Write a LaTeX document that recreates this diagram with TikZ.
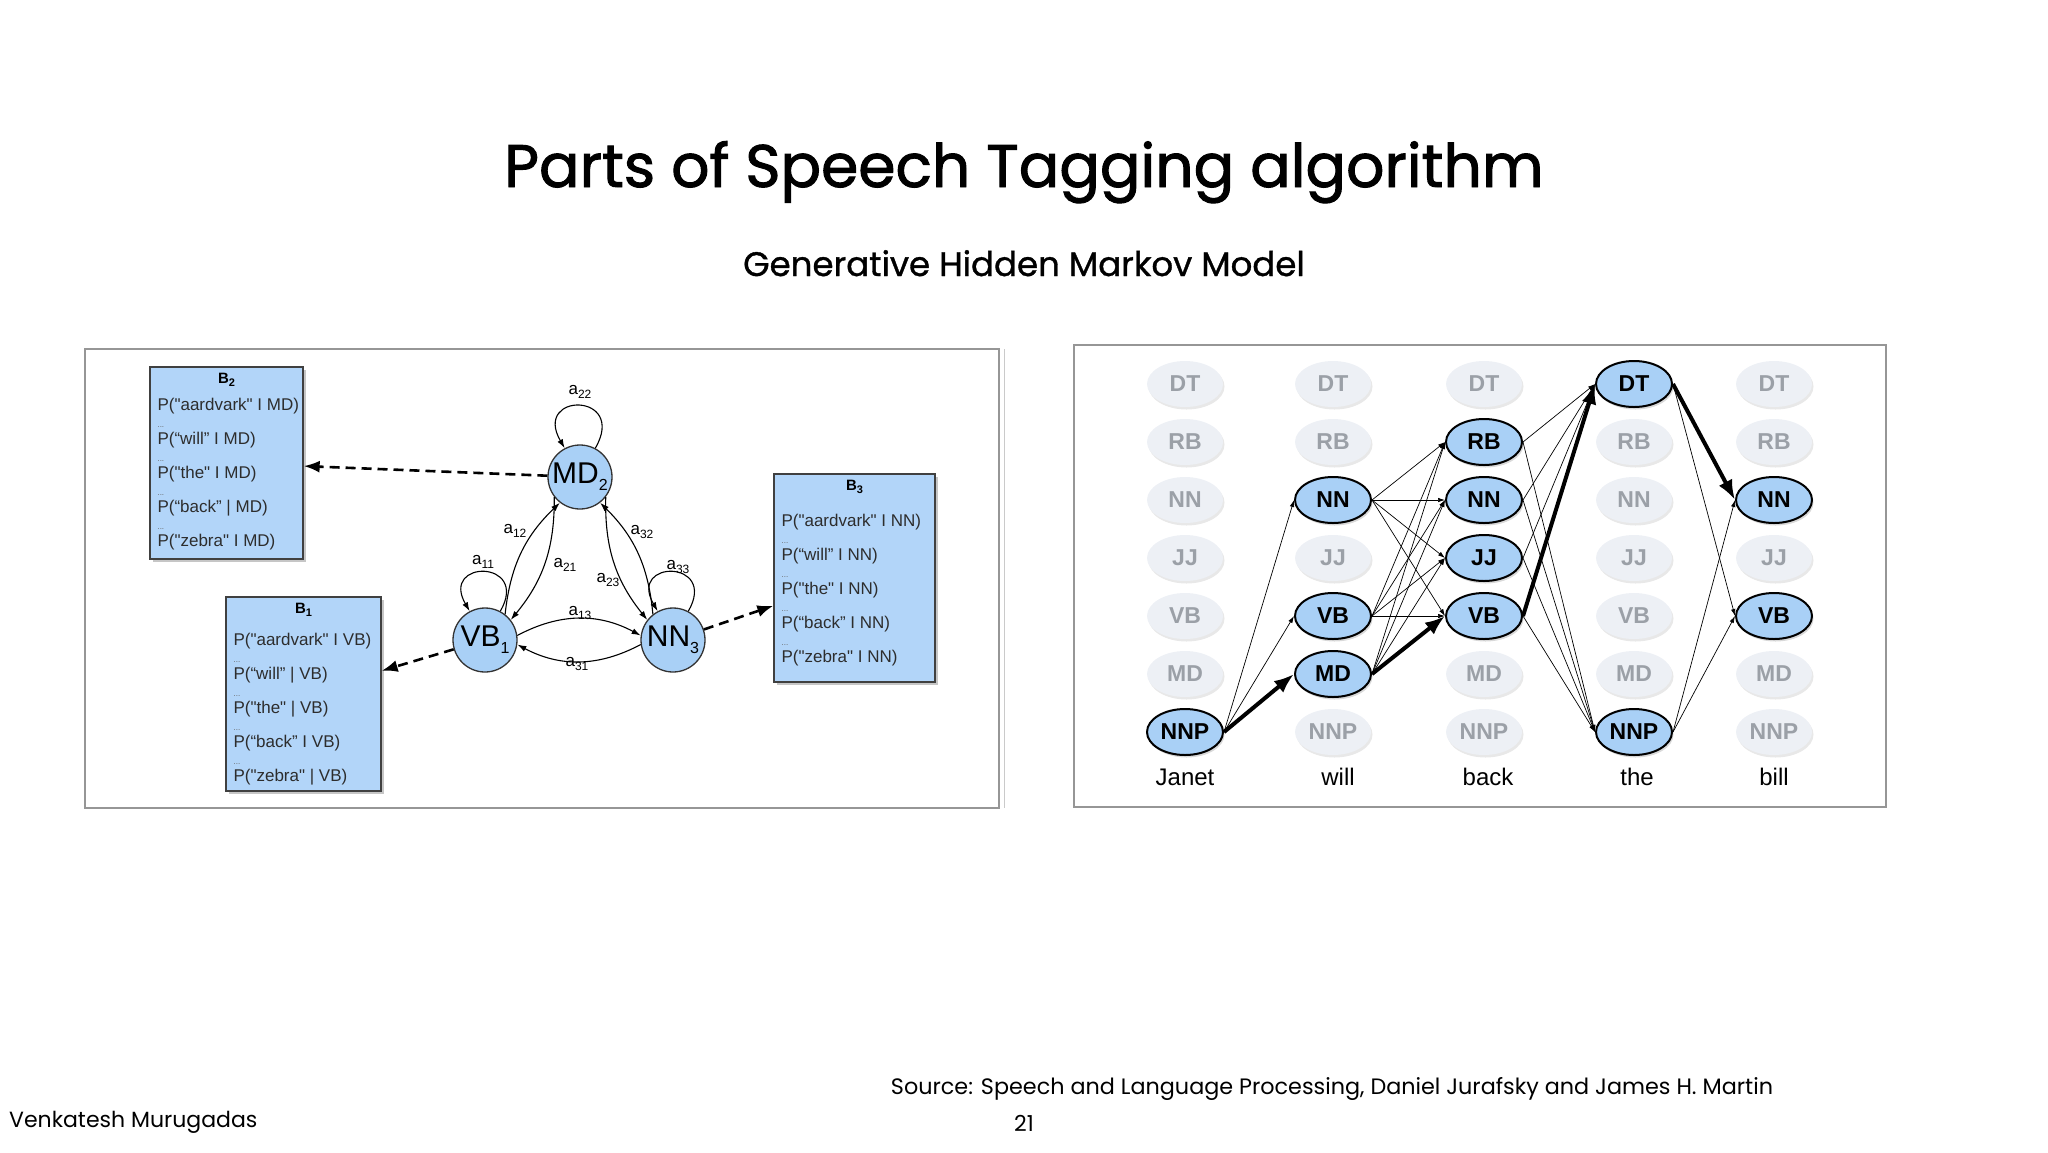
\documentclass[tikz,border=0pt]{standalone}
\usepackage{fontspec}
\setmainfont{Poppins}
\newfontfamily\headfont{Poppins}[FakeBold=1.6]
\newfontfamily\subheadfont{Poppins}[FakeBold=1.0]
\newfontfamily\diagfont{Liberation Sans}
\usepackage{tikz}
\usetikzlibrary{arrows.meta,positioning,calc,shapes.geometric,shadows}
\definecolor{stateblue}{RGB}{169,208,246}
\definecolor{boxblue}{RGB}{178,213,249}
\definecolor{offfill}{RGB}{237,240,245}
\definecolor{offtext}{RGB}{155,160,167}
\definecolor{framegray}{RGB}{150,150,150}
\definecolor{probtext}{RGB}{45,45,45}

\newcommand\lowsub[3]{\raisebox{-#1pt}{\fontsize{#2}{#2}\selectfont #3}}
\newcommand\obsdots{{\fontsize{8}{8}\selectfont\color{black!60}...}}
% emission table: name, x, y, width, height, index, text offset, lines
\newcommand\emitbox[8]{%
  \node[probbox, minimum width=#4pt, minimum height=#5pt] (#1) at (#2,#3) {};
  \node[boxtitle, anchor=north] (#1-title) at ([yshift=-7pt]#1.north) {B\lowsub{3}{11}{#6}};
  \node[boxtext, anchor=north west] (#1-text) at ([xshift=8pt,yshift=-#7pt]#1.north west) {#8};
}

\tikzset{
  state/.style={circle, draw=black!80, line width=1.3pt, fill=stateblue, minimum size=64pt, inner sep=0pt, font=\diagfont\fontsize{30}{30}\selectfont},
  trans/.style={line width=1.1pt, -{Latex[length=9pt,width=6pt]}},
  trlab/.style={inner sep=0pt, font=\diagfont\fontsize{17}{17}\selectfont},
  emit/.style={line width=2.6pt, dash pattern=on 10pt off 6pt, -{Latex[length=16pt,width=12pt]}},
  probbox/.style={draw=black!75, line width=1.3pt, fill=boxblue, drop shadow={shadow xshift=3pt, shadow yshift=-3pt, opacity=.45}},
  boxtitle/.style={inner sep=0pt, font=\diagfont\bfseries\fontsize{15}{15}\selectfont},
  boxtext/.style={inner sep=0pt, align=left, text=probtext, font=\diagfont\fontsize{17}{17}\selectfont},
  tagoff/.style={ellipse, fill=offfill, text=offtext, minimum width=76pt, minimum height=46pt, inner sep=0pt, font=\diagfont\bfseries\fontsize{23}{23}\selectfont, drop shadow={shadow xshift=1.5pt, shadow yshift=-2.5pt, opacity=.18}},
  tagon/.style={ellipse, draw=black, line width=2pt, fill=stateblue, minimum width=76pt, minimum height=46pt, inner sep=0pt, font=\diagfont\bfseries\fontsize{23}{23}\selectfont, drop shadow={shadow xshift=1.5pt, shadow yshift=-2.5pt, opacity=.3}},
  word/.style={anchor=base, inner sep=0pt, font=\diagfont\fontsize{24}{24}\selectfont},
  lattice/.style={line width=.7pt, -{Latex[length=7pt,width=4.5pt]}},
  best/.style={line width=4pt, -{Latex[length=20pt,width=15pt]}}
}

\begin{document}
\begin{tikzpicture}[x=1pt, y=1pt]
    \useasboundingbox (0,0) rectangle (2048,-1152);
    % Titles
    \node[anchor=base, inner sep=0pt, font=\headfont\fontsize{60}{60}\selectfont] (title) at (1024,-187) {Parts of Speech Tagging algorithm};
    \node[anchor=base, inner sep=0pt, font=\subheadfont\fontsize{34}{34}\selectfont] (subtitle) at (1024,-276) {Generative Hidden Markov Model};
    % Frames
    \draw[framegray, line width=1.5pt] (85,-349) rectangle (999,-808);
    \draw[framegray!50, line width=1pt] (1004,-349) -- (1004,-808);
    \draw[framegray, line width=1.5pt] (1074,-345) rectangle (1886,-807);

    % HMM states
    \node[state] (md) at (580,-477) {MD\lowsub{7}{16}{2}};
    \node[state] (vb) at (485,-640) {VB\lowsub{7}{16}{1}};
    \node[state] (nn) at (673,-640) {NN\lowsub{7}{16}{3}};
    % Emission tables
    \emitbox{b2}{226.5}{-463}{153}{192}{2}{32}{P("aardvark" I MD)\\\obsdots\\P(“will” I MD)\\\obsdots\\P("the" I MD)\\\obsdots\\P(“back” | MD)\\\obsdots\\P("zebra" I MD)}
    \emitbox{b1}{303.5}{-694}{155}{194}{1}{37}{P("aardvark" I VB)\\\obsdots\\P(“will” | VB)\\\obsdots\\P("the" | VB)\\\obsdots\\P(“back” I VB)\\\obsdots\\P("zebra" | VB)}
    \emitbox{b3}{854.5}{-578}{161}{208}{3}{41}{P("aardvark" I NN)\\\obsdots\\P(“will” I NN)\\\obsdots\\P("the" I NN)\\\obsdots\\P(“back” I NN)\\\obsdots\\P("zebra" I NN)}
    \draw[emit] (md) -- (b2);
    \draw[emit] (vb) -- (b1);
    \draw[emit] (nn) -- (b3);
    % Transitions
    \draw[trans] (md.62) .. controls +(60:65) and +(120:65) .. (md.118);
    \draw[trans] (vb.62) .. controls +(60:60) and +(120:60) .. (vb.118);
    \draw[trans] (nn.62) .. controls +(60:60) and +(120:60) .. (nn.118);
    \draw[trans] (vb.52) to[bend left=20] (md.232);
    \draw[trans] (md.218) to[bend left=20] (vb.38);
    \draw[trans] (nn.128) to[bend right=20] (md.-52);
    \draw[trans] (md.-38) to[bend right=20] (nn.142);
    \draw[trans] (vb.8) to[bend left=28] (nn.172);
    \draw[trans] (nn.188) to[bend left=28] (vb.-8);
    \node[trlab] (a22) at (580,-392) {a\lowsub{4}{12}{22}};
    \node[trlab] (a11) at (483,-562) {a\lowsub{4}{12}{11}};
    \node[trlab] (a33) at (678,-567) {a\lowsub{4}{12}{33}};
    \node[trlab] (a12) at (515,-531) {a\lowsub{4}{12}{12}};
    \node[trlab] (a21) at (565,-565) {a\lowsub{4}{12}{21}};
    \node[trlab] (a23) at (608,-580) {a\lowsub{4}{12}{23}};
    \node[trlab] (a32) at (642,-532) {a\lowsub{4}{12}{32}};
    \node[trlab] (a13) at (580,-613) {a\lowsub{4}{12}{13}};
    \node[trlab] (a31) at (577,-664) {a\lowsub{4}{12}{31}};

    % Viterbi lattice: unused tags
    \foreach \c/\x/\tags in {j/1185/{DT/384,RB/442,NN/500,JJ/558,VB/616,MD/674},
                             w/1333/{DT/384,RB/442,JJ/558,NNP/732},
                             b/1484/{DT/384,MD/674,NNP/732},
                             t/1634/{RB/442,NN/500,JJ/558,VB/616,MD/674},
                             l/1774/{DT/384,RB/442,JJ/558,MD/674,NNP/732}}
      \foreach \t/\y in \tags
        \node[tagoff] (off-\c-\t) at (\x,-\y) {\t};
    % possible tags
    \foreach \c/\x/\t/\y in {j/1185/NNP/732, w/1333/NN/500, w/1333/VB/616, w/1333/MD/674,
                             b/1484/RB/442, b/1484/NN/500, b/1484/JJ/558, b/1484/VB/616,
                             t/1634/DT/384, t/1634/NNP/732, l/1774/NN/500, l/1774/VB/616}
      \node[tagon] (\c-\t) at (\x,-\y) {\t};
    % words
    \foreach \c/\x/\w in {j/1185/Janet, w/1338/will, b/1488/back, t/1637/the, l/1774/bill}
      \node[word] (word-\c) at (\x,-785) {\w};
    % transitions between tags
    \foreach \s/\e in {j-NNP/w-NN, j-NNP/w-VB,
                       w-NN/b-RB, w-NN/b-NN, w-NN/b-JJ, w-NN/b-VB,
                       w-VB/b-RB, w-VB/b-NN, w-VB/b-JJ, w-VB/b-VB,
                       w-MD/b-RB, w-MD/b-NN, w-MD/b-JJ,
                       b-RB/t-DT, b-NN/t-DT, b-JJ/t-DT,
                       b-RB/t-NNP, b-NN/t-NNP, b-JJ/t-NNP, b-VB/t-NNP,
                       t-DT/l-VB, t-NNP/l-NN, t-NNP/l-VB}
      \draw[lattice] (\s.east) -- (\e.west);
    % best path
    \draw[best] (j-NNP.east) -- (w-MD.west);
    \draw[best] (w-MD.east) -- (b-VB.west);
    \draw[best] (b-VB.east) -- (t-DT.west);
    \draw[best] (t-DT.east) -- (l-NN.west);

    % Footer
    \node[anchor=base, inner sep=0pt, font=\fontsize{22.3}{23}\selectfont] (source) at (1332,-1094) {Source: Speech and Language Processing, Daniel Jurafsky and James H. Martin};
    \node[anchor=base west, inner sep=0pt, font=\fontsize{22}{22}\selectfont] (author) at (9,-1127) {Venkatesh Murugadas};
    \node[anchor=base, inner sep=0pt, font=\fontsize{22}{22}\selectfont] (page) at (1024,-1131) {21};
\end{tikzpicture}
\end{document}
